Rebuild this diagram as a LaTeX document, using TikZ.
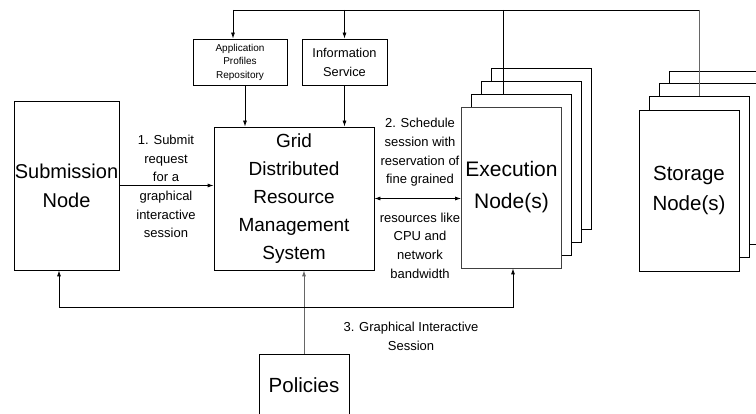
\documentclass[tikz,border=0pt]{standalone}
\usepackage{fontspec}
\setmainfont{Liberation Sans}
\usetikzlibrary{arrows.meta}
\tikzset{
  box/.style={draw,fill=white,inner sep=0pt,align=center,line width=0.8pt},
  sheet/.style={box,minimum width=100pt,minimum height=161pt},
  arr/.style={-{Latex[length=6pt,width=4pt]},line width=0.8pt},
  twoarr/.style={{Latex[length=6pt,width=4pt]}-{Latex[length=6pt,width=4pt]},line width=0.8pt},
  bigtxt/.style={font=\fontsize{20.5}{30}\selectfont},
  lbl/.style={align=center,inner sep=0pt,font=\fontsize{13}{18.7}\selectfont}
}
\begin{document}
\begin{tikzpicture}[x=1pt,y=-1pt]
\useasboundingbox (0,0) rectangle (756,414);
\clip (0,0) rectangle (756,414);
% boxes
\node[box,font=\fontsize{20}{29}\selectfont,minimum width=105pt,minimum height=169pt] (sub) at (66.5,185.5) {Submission\\Node};
\node[box,font=\fontsize{19}{28}\selectfont,minimum width=160pt,minimum height=143pt] (grms) at (294,198.5) {Grid\\Distributed\\Resource\\Management\\System};
\node[box,minimum width=94pt,minimum height=46pt,font=\fontsize{10}{13.5}\selectfont] (app) at (240,62) {Application\\Profiles\\Repository};
\node[box,minimum width=85pt,minimum height=46pt,font=\fontsize{12.8}{19}\selectfont] (info) at (344.5,62) {Information\\Service};
\node[box,bigtxt,minimum width=90pt,minimum height=80pt] (pol) at (304,394) {\raisebox{18pt}{Policies}};
% execution node stack
\node[sheet] (ex4) at (541.5,148.5) {};
\node[sheet] (ex3) at (531.5,161.5) {};
\node[sheet] (ex2) at (521.5,174.5) {};
\node[sheet,font=\fontsize{21}{32}\selectfont,draw=black!75] (ex1) at (511.5,187.5) {Execution\\Node(s)};
% storage node stack
\node[sheet] (st4) at (719,151.5) {};
\node[sheet] (st3) at (709,164) {};
\node[sheet] (st2) at (699,177) {};
\node[sheet,bigtxt] (st1) at (689,190.5) {Storage\\Node(s)};
% top bus
\coordinate (busL) at (233,10);
\coordinate (busR) at (699,10);
\coordinate (exTap) at (503,10);
\draw[line width=0.8pt] (busL) -- (busR);
\draw[arr] (busL) -- (busL |- app.north);
\draw[arr] (info.north |- busL) -- (info.north);
\draw[line width=0.8pt] (exTap) -- (exTap |- ex2.north);
\draw[line width=0.8pt,black!60] (busR) -- (busR |- st2.north);
\draw[arr] (app.south -| 245,0) -- (grms.north -| 245,0);
\draw[arr] (info.south) -- (info.south |- grms.north);
% requests
\draw[arr] (sub.east) -- (sub.east -| grms.west);
\draw[twoarr] (grms.east) -- (grms.east -| ex1.west);
\draw[arr,black!60] (pol.north) -- (pol.north |- grms.south);
% session bus
\coordinate (sessL) at (59,307);
\coordinate (sessR) at (513,307);
\draw[twoarr] (sessL |- sub.south) -- (sessL) -- (sessR) -- (sessR |- ex1.south);
% labels
\node[lbl] (l1) at (166,186.5) {1. Submit\\request\\for a\\graphical\\interactive\\session};
\node[lbl] (l2a) at (420,152.5) {2. Schedule\\session with\\reservation of\\fine grained};
\node[lbl] (l2b) at (420,245.5) {resources like\\CPU and\\network\\bandwidth};
\node[lbl] (l3) at (411,336.5) {3. Graphical Interactive\\Session};
\end{tikzpicture}
\end{document}
